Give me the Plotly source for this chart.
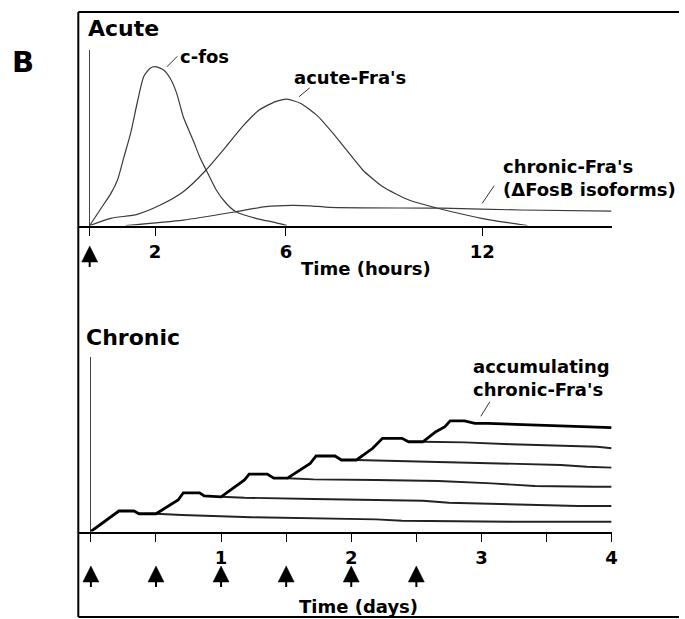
import plotly.graph_objects as go

# ---------------- data ----------------
# Acute panel (time in hours, relative level)
cfos_h = [0, 0.35, 0.65, 0.85, 1.05, 1.25, 1.45, 1.65, 1.85, 2.0, 2.26, 2.46, 2.66, 2.86,
          3.16, 3.36, 3.56, 3.87, 4.17, 4.47, 5.08, 5.68, 6.03]
cfos_v = [0, 10.8, 20.1, 28.4, 43.0, 57.6, 76.4, 93.0, 98.3, 99.3, 97.2, 92.0, 82.6, 68.0,
          53.4, 43.0, 34.7, 22.2, 13.9, 8.6, 4.5, 1.8, 0]

acute_h = [0, 0.65, 1.45, 2.16, 2.86, 3.56, 4.17, 4.67, 5.18, 5.68, 6.03, 6.44, 6.94, 7.44,
           7.85, 8.35, 8.95, 9.76, 10.57, 11.07, 11.98, 12.78, 13.38]
acute_v = [0, 4.5, 7.0, 12.8, 21.1, 34.7, 49.3, 61.8, 72.2, 77.4, 79.0, 76.4, 69.0, 57.6,
           47.2, 34.7, 24.3, 15.9, 11.1, 8.6, 4.5, 1.8, 0]

chronic_h = [1.1, 2.86, 4.47, 5.38, 6.18, 6.74, 7.34, 10.77, 13.18, 15.95]
chronic_v = [0, 3.4, 8.6, 11.8, 12.6, 12.3, 11.3, 10.8, 9.7, 9.0]

acute_ticks = [0, 2, 6, 12]
acute_ticklabels = ["", "2", "6", "12"]
acute_doses_h = [0]

# Chronic panel (time in days)
stair_d = [0, 0.215, 0.33, 0.37, 0.5, 0.67, 0.71, 0.835, 0.87, 1.0, 1.18, 1.216, 1.355, 1.405,
           1.51, 1.685, 1.73, 1.875, 1.925, 2.04, 2.165, 2.24, 2.39, 2.44, 2.55, 2.65, 2.72,
           2.76, 2.87, 2.95, 3.05, 3.41, 3.64, 3.86, 4.0]
stair_v = [0, 12.8, 12.8, 11.1, 11.1, 19.7, 24.2, 24.2, 22.2, 21.7, 32.2, 35.9, 35.9, 33.3,
           33.3, 42.6, 47.2, 47.2, 44.7, 44.7, 52.0, 58.2, 58.2, 56.1, 56.1, 62.4, 65.5,
           69.2, 69.2, 67.6, 67.6, 66.6, 65.9, 65.1, 64.9]

dose1_d = [0.5, 0.7, 1.23, 1.66, 2.19, 2.39, 3.23, 4.0]
dose1_v = [11.1, 10.3, 8.9, 8.2, 7.6, 6.7, 6.1, 6.1]
dose2_d = [1.0, 1.18, 1.71, 2.19, 2.55, 2.75, 3.18, 3.74, 4.0]
dose2_v = [21.7, 21.1, 20.3, 19.7, 19.2, 18.0, 17.0, 15.9, 15.9]
dose3_d = [1.51, 1.71, 2.19, 2.67, 3.08, 3.41, 3.86, 4.0]
dose3_v = [33.3, 32.6, 32.2, 31.6, 30.1, 28.4, 28.0, 28.0]
dose4_d = [2.04, 2.75, 3.2, 3.61, 3.81, 4.0]
dose4_v = [44.7, 43.2, 42.2, 41.6, 40.5, 39.9]
dose5_d = [2.55, 2.87, 3.23, 3.61, 3.89, 4.0]
dose5_v = [56.1, 55.7, 54.5, 53.6, 53.0, 52.0]

chronic_ticks = [0, 0.5, 1, 1.5, 2, 2.5, 3, 3.5, 4]
chronic_ticklabels = ["", "", "1", "", "2", "", "3", "", "4"]
chronic_doses_d = [0, 0.5, 1, 1.5, 2, 2.5]

# ---------------- layout helpers ----------------
W, H = 685, 619
FONT = "DejaVu Sans"
TOP_BASE, TOP_PXU = 225.5, 1.6     # baseline pixel row and px per unit (acute)
BOT_BASE, BOT_PXU = 531.5, 1.6     # (chronic)
TOP_XRANGE = [-0.348, 15.955]
BOT_XRANGE = [-0.0967, 4.0]

def px(x):
    return x / W

def py(y):
    return 1 - y / H

fig = go.Figure()

thin = dict(color="#3a3a3a", width=1.2)
for xs, ys in [(cfos_h, cfos_v), (acute_h, acute_v), (chronic_h, chronic_v)]:
    fig.add_trace(go.Scatter(x=xs, y=ys, mode="lines", line=dict(shape="spline", smoothing=0.6, **thin),
                             xaxis="x", yaxis="y", hoverinfo="skip"))

for xs, ys in [(dose1_d, dose1_v), (dose2_d, dose2_v), (dose3_d, dose3_v),
               (dose4_d, dose4_v), (dose5_d, dose5_v)]:
    fig.add_trace(go.Scatter(x=xs, y=ys, mode="lines", line=dict(color="#222222", width=1.9),
                             xaxis="x2", yaxis="y2", hoverinfo="skip"))
fig.add_trace(go.Scatter(x=stair_d, y=stair_v, mode="lines", line=dict(color="black", width=2.8),
                         xaxis="x2", yaxis="y2", hoverinfo="skip"))

# ---- dose arrows: drawn on helper axes whose y unit is the pixel row (y3) ----
def arrows(doses, xa, tip_row, stem_top, stem_bot):
    sx, sy = [], []
    for d in doses:
        sx += [d, d, None]
        sy += [stem_top, stem_bot, None]
    fig.add_trace(go.Scatter(x=sx, y=sy, mode="lines", line=dict(color="black", width=2),
                             xaxis=xa, yaxis="y3", hoverinfo="skip"))
    fig.add_trace(go.Scatter(x=doses, y=[tip_row] * len(doses), mode="markers",
                             marker=dict(symbol="arrow-up", size=16, color="black",
                                         line=dict(width=0.5, color="black")),
                             xaxis=xa, yaxis="y3", hoverinfo="skip"))

arrows(acute_doses_h, "x3", 246, 255, 267)
arrows(chronic_doses_d, "x4", 566, 575, 587)

xdom = [px(79), px(617)]
tickfont = dict(family=FONT, size=18, color="black", weight="bold")
axis_common = dict(domain=xdom, showline=True, linecolor="black", linewidth=1.6,
                   ticks="outside", ticklen=9, tickwidth=1.4, tickcolor="black",
                   tickfont=tickfont, showgrid=False, zeroline=True,
                   zerolinecolor="#444", zerolinewidth=1.2, fixedrange=True)

fig.update_layout(
    width=W, height=H, margin=dict(l=0, r=0, t=0, b=0), autosize=False,
    paper_bgcolor="white", plot_bgcolor="rgba(0,0,0,0)", showlegend=False,
    xaxis=dict(range=TOP_XRANGE, tickvals=acute_ticks, ticktext=acute_ticklabels,
               anchor="y", **axis_common),
    yaxis=dict(domain=[py(TOP_BASE), py(50)], range=[0, (TOP_BASE - 50) / TOP_PXU],
               visible=False, fixedrange=True),
    xaxis2=dict(range=BOT_XRANGE, tickvals=chronic_ticks, ticktext=chronic_ticklabels,
                anchor="y2", **axis_common),
    yaxis2=dict(domain=[py(BOT_BASE), py(357)], range=[0, (BOT_BASE - 357) / BOT_PXU],
                visible=False, fixedrange=True),
    xaxis3=dict(domain=xdom, range=TOP_XRANGE, anchor="y3", visible=False, fixedrange=True),
    xaxis4=dict(domain=xdom, range=BOT_XRANGE, anchor="y3", visible=False, fixedrange=True),
    yaxis3=dict(domain=[py(600), py(235)], range=[600, 235], visible=False, fixedrange=True),
)

# frame
frame = dict(type="line", xref="paper", yref="paper", line=dict(color="black", width=2))
fig.add_shape(x0=px(79), x1=px(79), y0=py(12), y1=py(617), **frame)
fig.add_shape(x0=px(79), x1=1, y0=py(12), y1=py(12), **frame)
fig.add_shape(x0=px(79), x1=1, y0=py(617), y1=py(617), **frame)

ann = []

def text(t, x, y, size=18, xanchor="center", align="center"):
    ann.append(dict(text=t, x=px(x), y=py(y), xref="paper", yref="paper", showarrow=False,
                    xanchor=xanchor, yanchor="middle", align=align,
                    font=dict(family=FONT, size=size, color="black", weight="bold")))

text("B", 23, 62, size=29)
text("Acute", 87, 28, size=22, xanchor="left")
text("Chronic", 85, 337, size=22, xanchor="left")
text("c-fos", 206, 57)
text("acute-Fra's", 353, 77)
text("chronic-Fra's<br>(ΔFosB isoforms)", 505, 178, xanchor="left", align="left")
text("accumulating<br>chronic-Fra's", 475, 378, xanchor="left", align="left")
text("Time (hours)", 369, 268)
text("Time (days)", 362, 606)

# leader lines
def leader(x, y, ax, ay, xr, yr):
    ann.append(dict(text="", x=x, y=y, xref=xr, yref=yr, ax=ax, ay=ay, axref="pixel", ayref="pixel",
                    showarrow=True, arrowhead=0, arrowwidth=1, arrowcolor="#333"))

leader(2.36, 99.2, 12, -12, "x", "y")
leader(6.4, 80.5, 12, -10, "x", "y")
leader(12.0, 13.9, 13, -19, "x", "y")
leader(2.995, 72.0, 10, -16, "x2", "y2")

fig.update_layout(annotations=ann)
fig.write_html("out.html")
